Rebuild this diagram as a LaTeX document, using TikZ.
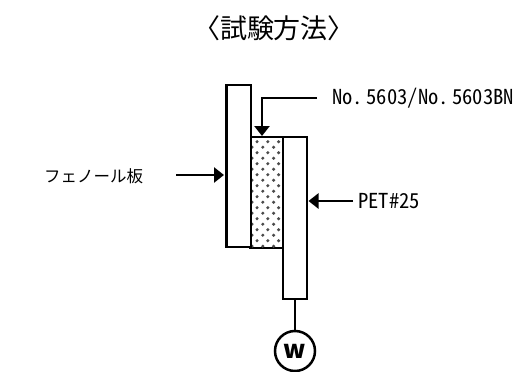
\documentclass[tikz,border=0pt]{standalone}
\usepackage{fontspec}
\setmainfont{Noto Sans CJK JP}
\newfontfamily\hw[RawFeature=+hwid]{Noto Sans CJK JP}
\usetikzlibrary{arrows.meta}
\tikzset{
  x=1pt,y=-1pt,
  box/.style={draw=black,line width=2.5pt,fill=white,inner sep=0pt,outer sep=0pt,anchor=north west},
  lab/.style={inner sep=0pt,font=\fontsize{16.5}{16.5}\selectfont},
  hwlab/.style={inner sep=0pt,font=\fontsize{20.6}{20.6}\selectfont\hw},
  conn/.style={line width=2.5pt,draw=black},
  head/.style={-{Triangle[length=10pt,width=15pt]}}
}
\begin{document}
\begin{tikzpicture}
\useasboundingbox (0,0) rectangle (531,372);
\node[inner sep=0pt,font=\fontsize{27}{27}\selectfont] (title) at (274,28) {〈試験方法〉};
\node[box,minimum width=33pt,minimum height=111pt] (mid) at (250,137) {};
\foreach \r in {0,...,19}{
  \pgfmathsetmacro\yy{141.7+\r*5.5}
  \pgfmathsetmacro\off{mod(\r,2)*(-5)}
  \foreach \c in {0,1,2}{
    \fill[black!70] (257+\off+\c*10.8,\yy) circle (1.7);
  }
}
\node[box,minimum width=24.5pt,minimum height=162pt] (left) at (226.3,85) {};
\node[box,minimum width=24pt,minimum height=162pt] (right) at (283,137) {};
\node[draw=black,line width=2.5pt,circle,minimum size=40pt,inner sep=0pt,outer sep=0pt,font=\bfseries\fontsize{25}{25}\selectfont] (w) at (295,351) {w};
\draw[conn] (right.south) -- (w.north);
\coordinate (a1) at (317,98);
\coordinate (a2) at (262,98);
\coordinate (a3) at (262,136);
\draw[conn,head] (a1) -- (a2) -- (a3);
\coordinate (b1) at (176,175);
\coordinate (b2) at (224,175);
\draw[conn,head] (b1) -- (b2);
\coordinate (c1) at (353,201);
\coordinate (c2) at (308.5,201);
\draw[conn,head] (c1) -- (c2);
\node[hwlab,anchor=west] (n1) at (332,98) {No.\,5603/No.\,5603BN};
\node[lab,anchor=west] (n2) at (44,176) {フェノール板};
\node[hwlab,anchor=west] (n3) at (358,201) {PET\#25};
\end{tikzpicture}
\end{document}
